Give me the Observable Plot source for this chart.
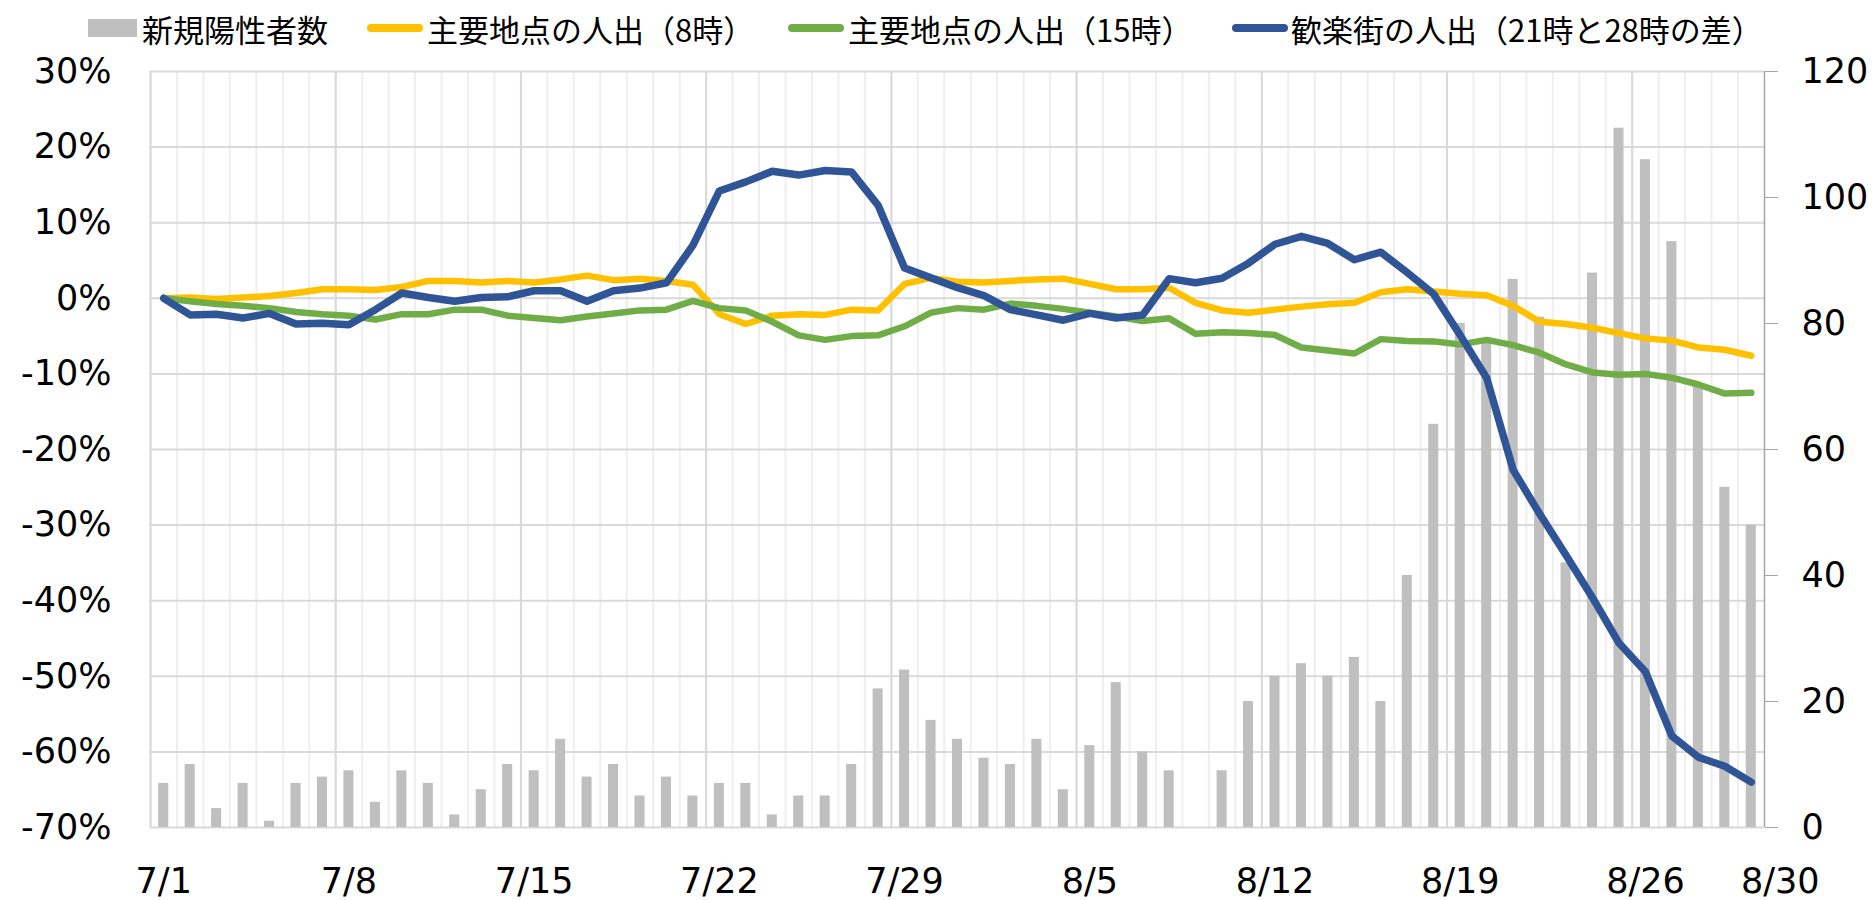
<!DOCTYPE html>
<html>
<head>
<meta charset="utf-8">
<script src="https://cdn.jsdelivr.net/npm/d3@7"></script>
<script src="https://cdn.jsdelivr.net/npm/@observablehq/plot@0.6"></script>
<style>
  html, body { margin: 0; padding: 0; background: #fff; overflow: hidden; }
  #legend { position: relative; height: 54px; width: 1876px; font-family: "Noto Sans CJK JP", "Noto Sans", sans-serif; font-size: 31px; color: #000; }
  #legend .sw { position: absolute; }
  #legend .tx { position: absolute; transform: translateY(-50%); white-space: nowrap; line-height: 1; }
  #chart { width: 1876px; height: 846px; }
  #chart svg { display: block; max-width: none !important; }
</style>
</head>
<body>
<div id="legend"></div>
<div id="chart"></div>
<script>
// Categories (dates)
const dates = [
  "7/1","7/2","7/3","7/4","7/5","7/6","7/7","7/8","7/9","7/10",
  "7/11","7/12","7/13","7/14","7/15","7/16","7/17","7/18","7/19","7/20",
  "7/21","7/22","7/23","7/24","7/25","7/26","7/27","7/28","7/29","7/30",
  "7/31","8/1","8/2","8/3","8/4","8/5","8/6","8/7","8/8","8/9",
  "8/10","8/11","8/12","8/13","8/14","8/15","8/16","8/17","8/18","8/19",
  "8/20","8/21","8/22","8/23","8/24","8/25","8/26","8/27","8/28","8/29",
  "8/30"
];
// 新規陽性者数 (right axis)
const newCases = [
  7,10,3,7,1,7,8,9,4,9,
  7,2,6,10,9,14,8,10,5,8,
  5,7,7,2,5,5,10,22,25,17,
  14,11,10,14,6,13,23,12,9,0,
  9,20,24,26,24,27,20,40,64,80,
  77,87,81,42,88,111,106,93,70,54,
  48
];
// 主要地点の人出（8時）(%)
const people8 = [
  0,0.1,-0.1,0.1,0.3,0.7,1.2,1.2,1.1,1.5,
  2.3,2.3,2.1,2.3,2.1,2.5,3.0,2.4,2.6,2.3,
  1.8,-2.1,-3.4,-2.3,-2.1,-2.2,-1.5,-1.6,1.9,2.7,
  2.2,2.1,2.3,2.5,2.6,1.9,1.2,1.2,1.4,-0.6,
  -1.6,-1.9,-1.5,-1.1,-0.8,-0.6,0.8,1.2,0.9,0.6,
  0.4,-1.0,-3.1,-3.4,-3.9,-4.6,-5.3,-5.6,-6.5,-6.8,
  -7.6
];
// 主要地点の人出（15時）(%)
const people15 = [
  0,-0.4,-0.75,-1.0,-1.3,-1.8,-2.1,-2.3,-2.8,-2.1,
  -2.1,-1.5,-1.5,-2.3,-2.6,-2.9,-2.4,-2.0,-1.6,-1.5,
  -0.35,-1.3,-1.6,-3.1,-4.9,-5.5,-5.0,-4.9,-3.7,-1.9,
  -1.3,-1.5,-0.7,-1.0,-1.4,-1.9,-2.4,-3.0,-2.65,-4.7,
  -4.5,-4.6,-4.85,-6.5,-6.9,-7.3,-5.4,-5.65,-5.7,-6.1,
  -5.5,-6.2,-7.2,-8.75,-9.8,-10.1,-10.0,-10.5,-11.4,-12.6,
  -12.5
];
// 歓楽街の人出（21時と28時の差）(%)
const nightlife = [
  0,-2.2,-2.1,-2.6,-2.0,-3.4,-3.3,-3.5,-1.5,0.7,
  0.1,-0.4,0.1,0.2,1.0,1.0,-0.4,1.0,1.35,2.05,
  7.0,14.2,15.4,16.8,16.3,16.9,16.7,12.3,4.0,2.7,
  1.4,0.35,-1.5,-2.2,-2.9,-2.0,-2.6,-2.2,2.6,2.05,
  2.65,4.65,7.15,8.2,7.25,5.1,6.1,3.4,0.55,-4.9,
  -10.55,-22.7,-28.5,-34.0,-39.6,-45.6,-49.4,-57.9,-60.7,-61.9,
  -64.0
];
// Tick labels
const xTickLabels = ["7/1","7/8","7/15","7/22","7/29","8/5","8/12","8/19","8/26"];
const xLastLabel = ["8/30"];
const leftTicks = [-70,-60,-50,-40,-30,-20,-10,0,10,20,30];
const rightTicks = [0,20,40,60,80,100,120];

const series = [
  {name: "新規陽性者数", color: "#BFBFBF", type: "bar"},
  {name: "主要地点の人出（8時）", color: "#FFC000", type: "line"},
  {name: "主要地点の人出（15時）", color: "#70AD47", type: "line"},
  {name: "歓楽街の人出（21時と28時の差）", color: "#2F5597", type: "line"}
];

// Legend
const legendLayout = [
  {sw: [88, 49, 18], tx: 142},
  {sw: [367, 56, 8], tx: 427},
  {sw: [788, 56, 8], tx: 848},
  {sw: [1232, 56, 8], tx: 1291}
];
const legend = document.getElementById("legend");
series.forEach((s, i) => {
  const L = legendLayout[i];
  const sw = document.createElement("div");
  sw.className = "sw";
  sw.style.left = L.sw[0] + "px";
  sw.style.width = L.sw[1] + "px";
  sw.style.height = L.sw[2] + "px";
  sw.style.top = (28 - L.sw[2] / 2) + "px";
  sw.style.background = s.color;
  if (s.type === "line") sw.style.borderRadius = "4px";
  legend.appendChild(sw);
  const tx = document.createElement("div");
  tx.className = "tx";
  tx.style.left = L.tx + "px";
  tx.style.top = "28px";
  tx.textContent = s.name;
  legend.appendChild(tx);
});

// Chart
const W = 1876, H = 846, mL = 150, mR = 112, mT = 17, mB = 73;
const bw = (W - mL - mR) / dates.length;
const yMin = -70, yMax = 30, rMax = 120;
const toLeft = c => yMin + c * (yMax - yMin) / rMax;
const fromLeft = v => Math.round((v - yMin) * rMax / (yMax - yMin));

const rows = dates.map((d, i) => ({
  date: d, cases: newCases[i], p8: people8[i], p15: people15[i], night: nightlife[i]
}));
const majorLines = ["7/1", ...xTickLabels.slice(1)];

const chart = Plot.plot({
  width: W, height: H,
  marginLeft: mL, marginRight: mR, marginTop: mT, marginBottom: mB,
  x: {type: "band", domain: dates, padding: 0, round: false},
  y: {domain: [yMin, yMax]},
  style: {fontFamily: "DejaVu Sans, Verdana, sans-serif", fontSize: "35px", color: "#000", background: "#fff", overflow: "visible", maxWidth: "none"},
  marks: [
    // vertical minor gridlines
    Plot.ruleX(dates, {x: d => d, dx: -bw / 2, stroke: "#eeeeee", strokeWidth: 2}),
    // vertical major gridlines
    Plot.ruleX(majorLines, {x: d => d, dx: -bw / 2, stroke: "#d9d9d9", strokeWidth: 2}),
    // horizontal gridlines
    Plot.ruleY(leftTicks, {y: d => d, stroke: "#d9d9d9", strokeWidth: 2}),
    // bars
    Plot.barY(rows, {x: "date", y1: yMin, y2: d => toLeft(d.cases), fill: "#BFBFBF", insetLeft: 8.2, insetRight: 8.2}),
    // lines
    Plot.line(rows, {x: "date", y: "p8", stroke: "#FFC000", strokeWidth: 6.5, strokeLinejoin: "round", strokeLinecap: "round"}),
    Plot.line(rows, {x: "date", y: "p15", stroke: "#70AD47", strokeWidth: 6.5, strokeLinejoin: "round", strokeLinecap: "round"}),
    Plot.line(rows, {x: "date", y: "night", stroke: "#2F5597", strokeWidth: 7.5, strokeLinejoin: "round", strokeLinecap: "round"}),
    // right axis line
    Plot.ruleX([dates[dates.length - 1]], {x: d => d, dx: bw / 2, stroke: "#a6a6a6", strokeWidth: 1.5}),
    // left axis
    Plot.axisY({anchor: "left", ticks: leftTicks, tickFormat: d => d + "%", tickSize: 0, tickPadding: 39, label: null}),
    // right axis ticks and labels
    Plot.axisY({anchor: "right", ticks: rightTicks.map(toLeft), tickFormat: () => "", tickSize: 13, stroke: "#a6a6a6", label: null}),
    Plot.axisY({anchor: "right", ticks: rightTicks.map(toLeft), tickFormat: fromLeft, tickSize: 0, tickPadding: 37, label: null}),
    // bottom axis
    Plot.axisX({ticks: xTickLabels, tickSize: 0, tickPadding: 41, label: null}),
    Plot.axisX({ticks: xLastLabel, tickSize: 0, tickPadding: 41, dx: 29, label: null})
  ]
});
document.getElementById("chart").appendChild(chart);
</script>
</body>
</html>
